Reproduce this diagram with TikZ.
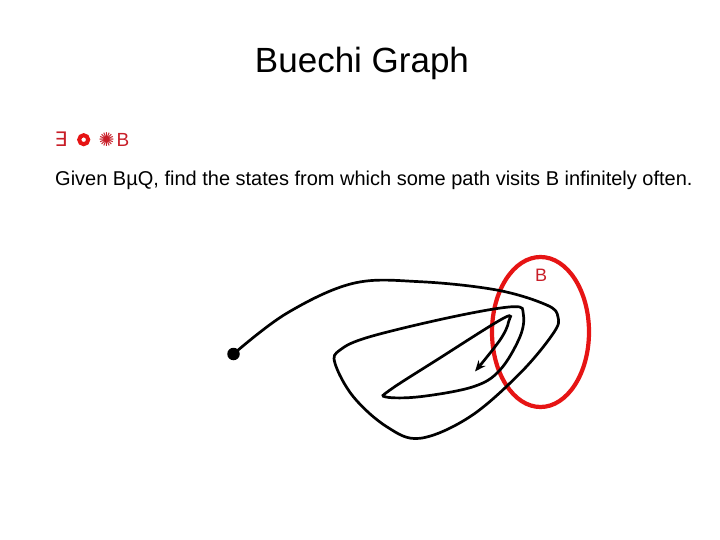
\documentclass[tikz,border=0pt]{standalone}
\usepackage{fontspec}
\setmainfont{Liberation Sans}
\newfontfamily\symfont{DejaVu Sans}
\usetikzlibrary{arrows.meta,shapes.geometric}
\definecolor{b_red}{RGB}{230, 20, 20}
\definecolor{b_text}{RGB}{200, 30, 40}
\tikzstyle{title}=[font=\fontsize{35}{40}\selectfont,inner sep=0pt,anchor=base]
\tikzstyle{txt}=[font=\fontsize{20}{24}\selectfont,inner sep=0pt,anchor=base west]
\tikzstyle{sym}=[font=\fontsize{19}{22}\selectfont,text=b_text,inner sep=0pt,anchor=base west]
\tikzstyle{ring}=[circle,draw=b_red,line width=4pt,minimum size=9pt,inner sep=0pt]
\tikzstyle{state}=[circle,fill=black,inner sep=0pt,minimum size=12.5pt]
\tikzstyle{set}=[ellipse,draw=b_red,line width=4.2pt,minimum width=97pt,minimum height=150pt,inner sep=0pt]
\tikzstyle{run}=[line width=2.7pt,-{Stealth[length=11pt,width=9pt]}]
\tikzstyle{none}=[]

\begin{document}
\begin{tikzpicture}[x=1pt,y=-1pt]
            \useasboundingbox (0,0) rectangle (720,540);
            \node [style=title] (0) at (362, 73) {Buechi Graph};
            \node [style=sym,font=\symfont\fontsize{20}{22}\selectfont] (1) at (54.5, 147) {∃};
            \node [style=ring] (2) at (83.7, 139.7) {};
            \node [style=sym,font=\symfont\fontsize{19}{22}\selectfont] (3) at (98.5, 146.5) {✺};
            \node [style=sym] (4) at (116.5, 146.7) {B};
            \node [style=txt] (5) at (55, 186) {Given BµQ, find the states from which some path visits B infinitely often.};
            \node [style=set] (6) at (540.5, 332) {};
            \node [style=none,text=b_text,font=\fontsize{18}{20}\selectfont,inner sep=0pt,anchor=base] (7) at (541, 281) {B};
            \node [style=state] (8) at (233.5, 354) {};
            \coordinate (9) at (475, 371.5);
            \draw [style=run] plot [smooth, tension=0.6] coordinates {
              (8.center) (286.7, 313.3) (353.3, 283.3) (420, 281.7) (496.7, 290)
              (546.7, 305) (558, 317) (553.3, 333.3) (520, 373.3) (470, 416.7)
              (420, 438.3) (386.7, 426.7) (353.3, 396.7) (335, 363.3) (340, 350)
              (370, 336.7) (453.3, 316.7) (513.3, 306.7) (523.3, 314) (520, 336.7)
              (500, 370) (473.3, 386.7) (420, 396.7) (386, 397) (390, 390)
              (436.7, 360) (503.3, 318.3) (508.5, 322) (500, 340) (9)};
    \end{tikzpicture}
\end{document}
